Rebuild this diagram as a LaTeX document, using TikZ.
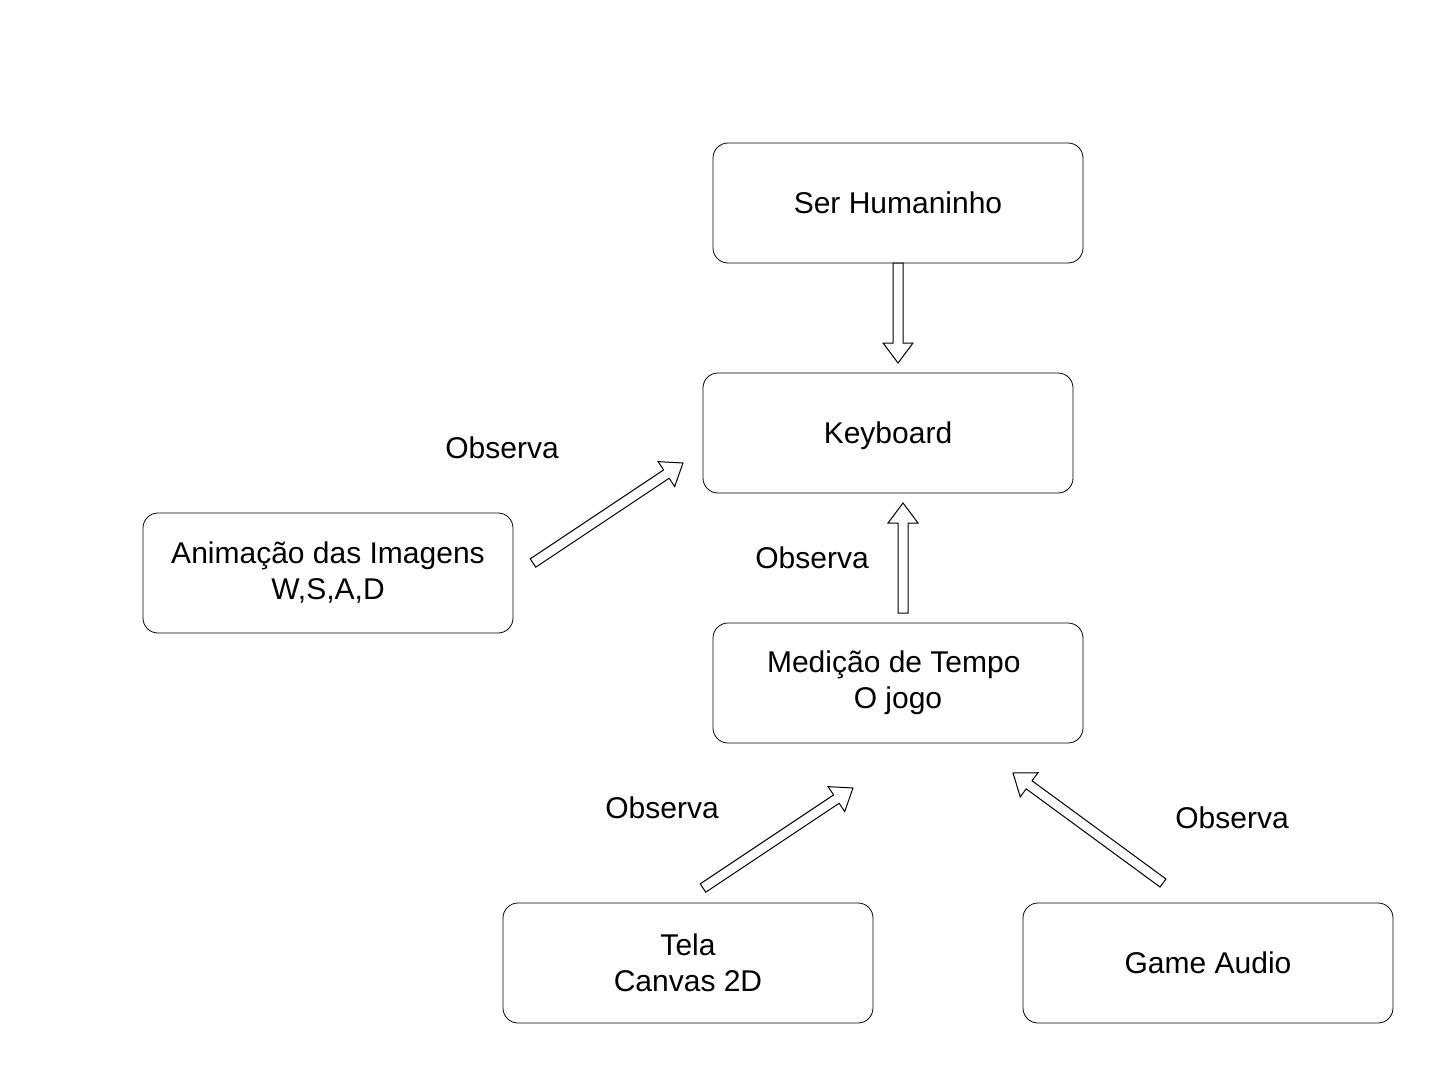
\documentclass[tikz,border=0pt]{standalone}
\usepackage{fontspec}
\setmainfont{Liberation Sans}
\usepackage{tikz}
\usetikzlibrary{calc}

% hollow block arrow from #1 to #2
\newcommand{\obsarrow}[2]{%
  \coordinate (h) at ($(#2)!10pt!(#1)$);
  \draw[blockarrow] ($(#1)!2.5pt!90:(#2)$) -- ($(h)!2.5pt!90:(#2)$)
    -- ($(h)!7.5pt!90:(#2)$) -- (#2) -- ($(h)!7.5pt!-90:(#2)$)
    -- ($(h)!2.5pt!-90:(#2)$) -- ($(#1)!2.5pt!-90:(#2)$) -- cycle;
}

\begin{document}
\begin{tikzpicture} [x=0.5pt, y=-0.5pt,
  box/.style={draw, rounded corners=7.5pt, minimum width=185pt, minimum height=60pt,
    align=center, font=\fontsize{15}{18}\selectfont},
  obs/.style={font=\fontsize{15}{18}\selectfont},
  blockarrow/.style={draw, fill=white, line width=0.5pt, line join=miter}]

\useasboundingbox (0,0) rectangle (1451,1081);

\node [box] (ser) at (898,203) {Ser Humaninho};
\node [box, text depth=0pt] (kbd) at (888,433) {Keyboard};
\node [box] (anim) at (328,573) {Animação das Imagens\\W,S,A,D};
\node [box] (tempo) at (898,683) {Medição de Tempo\kern0.28em\\O jogo};
\node [box] (tela) at (688,963) {Tela\\Canvas 2D};
\node [box] (audio) at (1208,963) {Game Audio};

\node [obs] (o1) at (502,448) {Observa};
\node [obs] (o2) at (812,558) {Observa};
\node [obs] (o3) at (662,808) {Observa};
\node [obs] (o4) at (1232,818) {Observa};

\coordinate (a1) at (898,263);
\coordinate (b1) at (898,363);
\coordinate (a2) at (533,563);
\coordinate (b2) at (683,463);
\coordinate (a3) at (903,613);
\coordinate (b3) at (903,503);
\coordinate (a4) at (703,888);
\coordinate (b4) at (853,788);
\coordinate (a5) at (1163,883);
\coordinate (b5) at (1013,773);

\obsarrow{a1}{b1}
\obsarrow{a2}{b2}
\obsarrow{a3}{b3}
\obsarrow{a4}{b4}
\obsarrow{a5}{b5}

\end{tikzpicture}
\end{document}
